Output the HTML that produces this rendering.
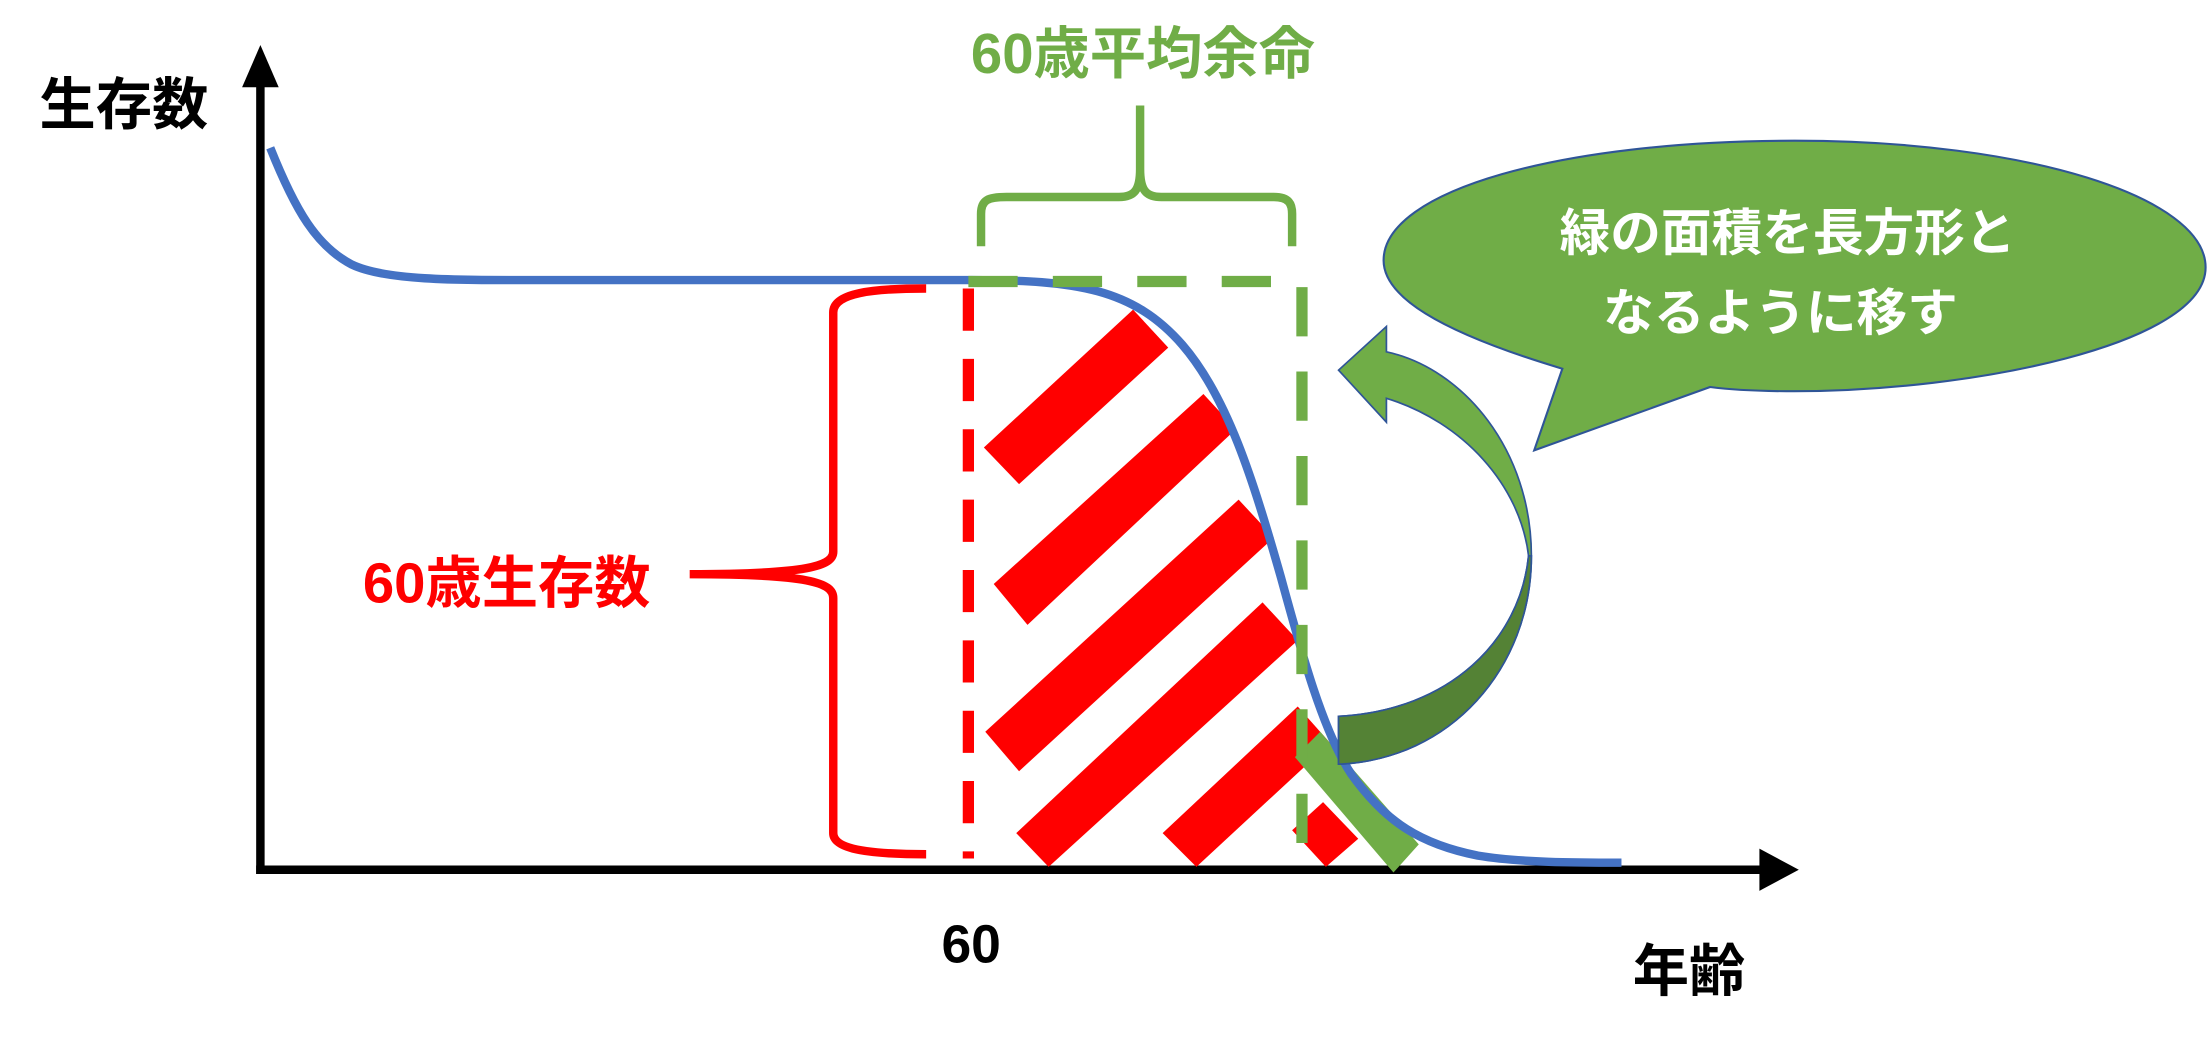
<!DOCTYPE html>
<html><head><meta charset="utf-8"><style>
html,body{margin:0;padding:0;background:#fff;}
svg{display:block;}
text{font-family:"Liberation Sans","Noto Sans CJK JP",sans-serif;font-weight:bold;}
</style></head><body>
<svg width="2207" height="1040" viewBox="0 0 1568 739" preserveAspectRatio="none" xmlns="http://www.w3.org/2000/svg">
<!-- axes -->
<line x1="185" y1="60" x2="185" y2="621" stroke="#000" stroke-width="6"/>
<polygon points="172,62 185,32 198,62" fill="#000"/>
<line x1="182" y1="618" x2="1252" y2="618" stroke="#000" stroke-width="6"/>
<polygon points="1250,603 1278,618 1250,633" fill="#000"/>
<!-- red stripes -->
<g fill="#ff0000">
<polygon points="699,318 805,220 830,247 724,344"/>
<polygon points="706,415 855,280 878,305 730,444"/>
<polygon points="700,520 880,355 905,382 724,548"/>
<polygon points="722,592 897,428 922,455 745,616"/>
<polygon points="826,592 922,502 945,528 850,616"/>
<polygon points="918,590 940,570 965,596 942,616"/>
</g>
<!-- green stripe -->
<polygon points="920,538 938,520 1008,600 990,620" fill="#70AD47"/>
<!-- blue curve -->
<path d="M192,105 C210,150 225,175 250,188 C275,200 330,199 390,199 L690,199 C765,199 805,205 840,245 C872,282 890,340 910,410 C925,465 940,520 960,550 C985,585 1010,600 1050,608 C1080,613 1120,613 1152,613" fill="none" stroke="#4472C4" stroke-width="6"/>
<!-- red dashed -->
<line x1="688" y1="205" x2="688" y2="610" stroke="#ff0000" stroke-width="8" stroke-dasharray="30,20"/>
<!-- red brace -->
<path d="M658,205 C620,205 592,208 592,222 L592,392 C592,402 575,408 490,408 C575,408 592,414 592,425 L592,592 C592,604 620,607 658,607" fill="none" stroke="#ff0000" stroke-width="6"/>
<text x="360" y="428" font-size="40" fill="#ff0000" text-anchor="middle">60歳生存数</text>
<!-- green dashed -->
<line x1="688" y1="200" x2="925" y2="200" stroke="#70AD47" stroke-width="8" stroke-dasharray="35,25"/>
<line x1="925" y1="204" x2="925" y2="612" stroke="#70AD47" stroke-width="8" stroke-dasharray="35,25"/>
<!-- green brace -->
<path d="M697,175 L697,152 C697,142 702,140 715,140 L795,140 C806,140 810,135 810,120 L810,75 M810,120 C810,135 814,140 825,140 L905,140 C916,140 918,145 918,152 L918,175" fill="none" stroke="#70AD47" stroke-width="6"/>
<text x="812" y="52" font-size="40" fill="#70AD47" text-anchor="middle">60歳平均余命</text>
<!-- speech bubble -->
<path d="M1110,262 C1020,235 983,210 983,185 C983,135 1110,100 1275,100 C1440,100 1567,140 1567,190 C1567,245 1400,278 1275,278 C1250,278 1230,277 1215,275 L1090,320 Z" fill="#70AD47" stroke="#2F5597" stroke-width="1.5"/>
<text x="1270" y="178" font-size="36" fill="#fff" text-anchor="middle">緑の面積を長方形と</text>
<text x="1265" y="235" font-size="36" fill="#fff" text-anchor="middle">なるように移す</text>
<!-- curved arrow -->
<path d="M985,283 C1040,300 1080,345 1086,395 C1080,455 1030,505 951,509 L951,543 C1030,540 1088,475 1088,395 C1088,320 1040,262 985,250 L985,232 L951,263 L985,300 Z" fill="#70AD47" stroke="#2F5597" stroke-width="1.2"/>
<path d="M1086,395 C1080,455 1030,505 951,509 L951,543 C1030,540 1088,475 1088,395 Z" fill="#548235" stroke="#2F5597" stroke-width="1.2"/>
<!-- labels -->
<text x="88" y="88" font-size="40" fill="#000" text-anchor="middle">生存数</text>
<text x="690" y="684" font-size="38" fill="#000" text-anchor="middle">60</text>
<text x="1200" y="704" font-size="40" fill="#000" text-anchor="middle">年齢</text>
</svg>
</body></html>
